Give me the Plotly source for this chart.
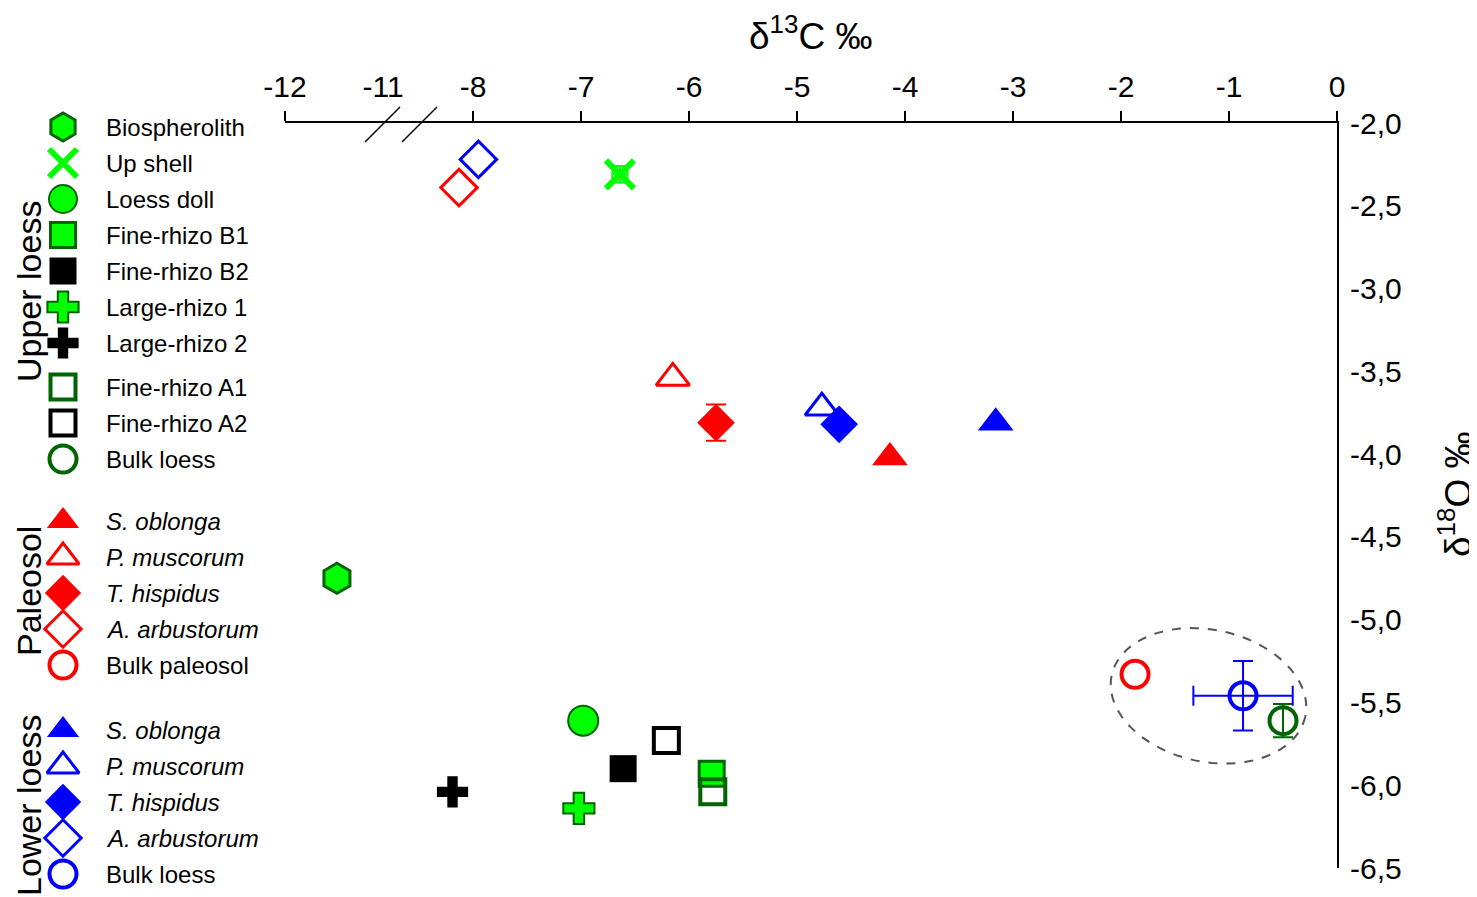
import math
import plotly.graph_objects as go

# ---------------- data ----------------
names = ["Biospherolith", "Up shell", "Loess doll", "Fine-rhizo B1", "Fine-rhizo B2",
         "Large-rhizo 1", "Large-rhizo 2", "Fine-rhizo A1", "Fine-rhizo A2", "Bulk loess",
         "<i>S. oblonga</i>", "<i>P. muscorum</i>", "<i>T. hispidus</i>", "<i>A. arbustorum</i>", "Bulk paleosol",
         "<i>S. oblonga</i>", "<i>P. muscorum</i>", "<i>T. hispidus</i>", "<i>A. arbustorum</i>", "Bulk loess"]
groups = ["Upper loess"] * 10 + ["Paleosol"] * 5 + ["Lower loess"] * 5

d13C = [-11.47, -6.64, -6.98, -5.79, -6.61, -7.02, -8.19, -5.78, -6.21, -0.50,
        -4.14, -6.15, -5.75, -8.13, -1.87,
        -3.16, -4.77, -4.61, -7.95, -0.87]
d18O = [-4.75, -2.31, -5.61, -5.93, -5.90, -6.14, -6.04, -6.04, -5.73, -5.61,
        -4.02, -3.54, -3.81, -2.39, -5.33,
        -3.81, -3.72, -3.82, -2.22, -5.46]
err_13C = [0, 0.07, 0, 0, 0, 0, 0, 0, 0, 0,
           0, 0, 0, 0, 0,
           0, 0, 0, 0, 0.46]
err_18O = [0, 0.05, 0, 0, 0, 0, 0, 0, 0, 0.10,
           0, 0, 0.11, 0, 0,
           0, 0, 0, 0, 0.21]

x_ticks_left = [-12, -11]
x_ticks_right = [-8, -7, -6, -5, -4, -3, -2, -1, 0]
y_ticks = [-2.0, -2.5, -3.0, -3.5, -4.0, -4.5, -5.0, -5.5, -6.0, -6.5]

# ---------------- styles ----------------
LIME = "#00FF00"
DKG = "#006400"
RED = "#FF0000"
BLUE = "#0000FF"
BLK = "#000000"

symbols = ["hexagon", "x-thin", "circle", "square", "square", "cross", "cross", "square-open", "square-open", "circle-open",
           "triangle-up", "triangle-up-open", "diamond", "diamond-open", "circle-open",
           "triangle-up", "triangle-up-open", "diamond", "diamond-open", "circle-open"]
fills = [LIME, LIME, LIME, LIME, BLK, LIME, BLK, DKG, BLK, DKG,
         RED, RED, RED, RED, RED,
         BLUE, BLUE, BLUE, BLUE, BLUE]
lcols = [DKG, LIME, DKG, DKG, BLK, DKG, BLK, DKG, BLK, DKG,
         RED, RED, RED, RED, RED,
         BLUE, BLUE, BLUE, BLUE, BLUE]
lw = [3, 6, 2, 3, 0, 2, 0, 4, 4, 4,
      0, 3, 0, 3, 4,
      0, 3, 0, 3, 4]
sizes = [30, 28, 30, 25, 27, 26, 26, 25, 25, 27,
         31, 29, 29, 28, 27,
         31, 29, 29, 28, 27]

W, H = 1477, 897
OFF = 8  # page body margin of the rendered html
FONT = "Arial, Liberation Sans, sans-serif"


def pxx(x):
    return (x - OFF) / W


def pxy(y):
    return 1 - (y - OFF) / H


X0, XB, X1 = 285, 401, 1337     # screen pixel positions of left end, break, right end
Y0, Y1 = 123, 868               # screen pixel positions of top (-2.0) and bottom (-6.5)
LEFT_SCALE = 98.0               # px per unit (left segment)
RIGHT_SCALE = (X1 - XB) / 8.667

fig = go.Figure()

# data traces
for i in range(len(names)):
    xa = "x" if d13C[i] < -10 else "x2"
    ecol = lcols[i] if lw[i] > 0 else fills[i]
    tr = dict(
        x=[d13C[i]], y=[d18O[i]], mode="markers", xaxis=xa, yaxis="y",
        showlegend=False, cliponaxis=False, hoverinfo="x+y+name", name=groups[i] + " " + names[i],
        marker=dict(symbol=symbols[i], size=sizes[i], color=fills[i], opacity=1,
                    line=dict(color=lcols[i], width=lw[i])),
    )
    if err_13C[i] > 0:
        tr["error_x"] = dict(type="data", array=[err_13C[i]], color=ecol, thickness=2, width=10)
    if err_18O[i] > 0:
        tr["error_y"] = dict(type="data", array=[err_18O[i]], color=ecol, thickness=2, width=10)
    fig.add_trace(go.Scatter(**tr))

# manual legend (drawn on a hidden axis in screen-pixel units)
group_start = {"Upper loess": 127, "Paleosol": 521, "Lower loess": 730}
ROW = 36
leg_y = []
counter = {}
for g in groups:
    k = counter.get(g, 0)
    extra = 8 if (g == "Upper loess" and k >= 7) else 0
    leg_y.append(group_start[g] + ROW * k + extra)
    counter[g] = k + 1
leg_x = [63] * len(names)
leg_sizes = [min(s, 28) for s in sizes]
fig.add_trace(go.Scatter(
    x=leg_x, y=leg_y, mode="markers", xaxis="x3", yaxis="y3", showlegend=False,
    cliponaxis=False, hoverinfo="skip",
    marker=dict(symbol=symbols, size=leg_sizes, color=fills, opacity=1,
                line=dict(color=lcols, width=lw)),
))

annotations = []
for n, yy in zip(names, leg_y):
    annotations.append(dict(x=104, y=yy, xref="x3", yref="y3", text=n, showarrow=False,
                            xanchor="left", yanchor="middle",
                            font=dict(family=FONT, size=24, color="black")))

# group labels
for g, yc in [("Upper loess", 292), ("Paleosol", 591), ("Lower loess", 806)]:
    annotations.append(dict(x=pxx(29), y=pxy(yc), xref="paper", yref="paper", text=g,
                            showarrow=False, textangle=-90, xanchor="center", yanchor="middle",
                            borderpad=0,
                            font=dict(family=FONT, size=34, color="black")))

# axis titles
annotations.append(dict(x=pxx(810), y=pxy(33), xref="paper", yref="paper",
                        text="δ<sup>13</sup>C ‰", showarrow=False, xanchor="center", yanchor="middle",
                        borderpad=0,
                        font=dict(family=FONT, size=37, color="black")))
annotations.append(dict(x=pxx(1455), y=pxy(495), xref="paper", yref="paper",
                        text="δ<sup>18</sup>O ‰", showarrow=False, textangle=-90,
                        xanchor="center", yanchor="middle", borderpad=0,
                        font=dict(family=FONT, size=37, color="black")))

# break marks
shapes = []
for (xa_, ya_, xb_, yb_) in [(365, 142, 400, 107), (402, 142, 437, 107)]:
    shapes.append(dict(type="line", xref="paper", yref="paper",
                       x0=pxx(xa_), y0=pxy(ya_), x1=pxx(xb_), y1=pxy(yb_),
                       line=dict(color="black", width=1.5)))

# dashed ellipse around bulk samples (tilted)
cx, cy = -1.19, -5.46
a_px, b_px, th = 99, 66, math.radians(12)
pts = []
for k in range(73):
    t = 2 * math.pi * k / 72
    dx = a_px * math.cos(t) * math.cos(th) - b_px * math.sin(t) * math.sin(th)
    dy = a_px * math.cos(t) * math.sin(th) + b_px * math.sin(t) * math.cos(th)
    pts.append((cx + dx / RIGHT_SCALE, cy - dy / ((Y1 - Y0) / 4.5)))
path = "M " + " L ".join(f"{p[0]:.4f},{p[1]:.4f}" for p in pts) + " Z"
shapes.append(dict(type="path", xref="x2", yref="y", path=path,
                   line=dict(color="#555555", width=2, dash="dash")))

tickfont = dict(family=FONT, size=30, color="black")

fig.update_layout(
    width=W, height=H,
    margin=dict(l=0, r=0, t=0, b=0, pad=0, autoexpand=False),
    paper_bgcolor="white", plot_bgcolor="rgba(0,0,0,0)",
    showlegend=False,
    xaxis=dict(domain=[pxx(X0), pxx(XB)], range=[-12, -12 + (XB - X0) / LEFT_SCALE],
               side="top", anchor="y", showline=True, linecolor="black", linewidth=2,
               showgrid=False, zeroline=False, ticks="", tickmode="array",
               tickvals=x_ticks_left, ticktext=[f"{v:d}" for v in x_ticks_left],
               tickfont=tickfont, ticklabelstandoff=12, automargin=False,
               minor=dict(tickmode="array", tickvals=[-12], ticks="outside", ticklen=10,
                          tickwidth=2, tickcolor="black", showgrid=False),
               fixedrange=True),
    xaxis2=dict(domain=[pxx(XB), pxx(X1)], range=[-(X1 - XB) / RIGHT_SCALE, 0],
                side="top", anchor="y", showline=True, linecolor="black", linewidth=2,
                showgrid=False, zeroline=False, ticks="outside", ticklen=10, tickwidth=2,
                tickcolor="black", tickmode="array", automargin=False,
                tickvals=x_ticks_right, ticktext=[f"{v:d}" for v in x_ticks_right],
                tickfont=tickfont, ticklabelstandoff=2, fixedrange=True),
    yaxis=dict(domain=[pxy(Y1), pxy(Y0)], range=[-6.5, -2.0], side="right", anchor="x2",
               showline=True, linecolor="black", linewidth=2, showgrid=False, zeroline=False,
               ticks="", tickmode="array", tickvals=y_ticks, automargin=False,
               ticktext=[f"{v:.1f}".replace(".", ",") for v in y_ticks],
               tickfont=tickfont, ticklabelstandoff=5, fixedrange=True),
    xaxis3=dict(domain=[0, pxx(280)], range=[OFF, 280], visible=False, anchor="y3", fixedrange=True),
    yaxis3=dict(domain=[0, 1], range=[H + OFF, OFF], visible=False, anchor="x3", fixedrange=True),
    annotations=annotations,
    shapes=shapes,
)

fig.write_html("out.html")
